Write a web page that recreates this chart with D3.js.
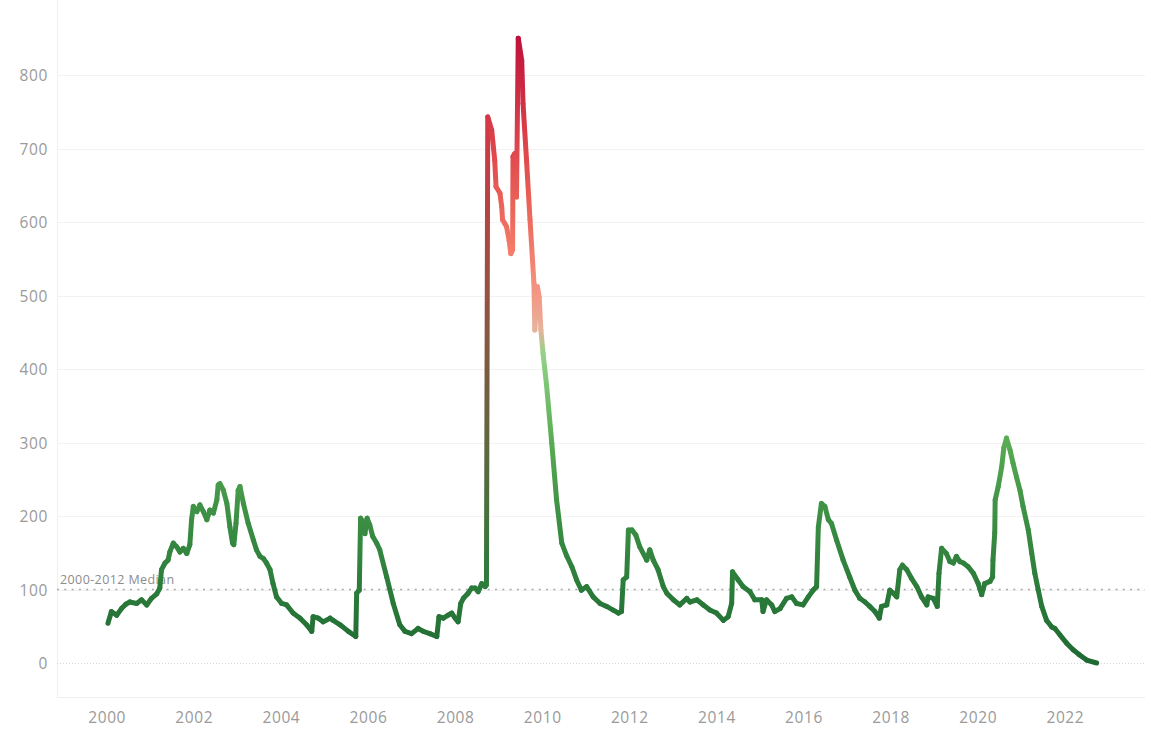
<!DOCTYPE html>
<html>
<head>
<meta charset="utf-8">
<script src="https://cdn.jsdelivr.net/npm/d3@7"></script>
<style>
  html, body { margin: 0; padding: 0; background: #ffffff; }
  svg { display: block; }
  text { font-family: "Open Sans", "Noto Sans", sans-serif; }
</style>
</head>
<body>
<svg id="chart" width="1151" height="730"></svg>
<script>
// ---- data ----
const years = [
  2000.03,2000.11,2000.23,2000.34,2000.44,2000.53,2000.69,2000.80,2000.92,2001.03,
  2001.15,2001.22,2001.26,2001.34,2001.41,2001.45,2001.53,2001.61,2001.68,2001.76,
  2001.84,2001.91,2001.95,2001.99,2002.07,2002.14,2002.22,2002.30,2002.37,2002.45,
  2002.53,2002.56,2002.60,2002.68,2002.76,2002.83,2002.89,2002.92,2002.97,2003.02,
  2003.06,2003.14,2003.25,2003.37,2003.44,2003.52,2003.60,2003.67,2003.75,2003.82,
  2003.90,2004.02,2004.13,2004.28,2004.44,2004.59,2004.71,2004.74,2004.86,2004.97,
  2005.13,2005.20,2005.36,2005.55,2005.72,2005.74,2005.80,2005.83,2005.89,2005.93,
  2005.98,2006.04,2006.11,2006.20,2006.27,2006.43,2006.58,2006.73,2006.85,2007.00,
  2007.15,2007.27,2007.42,2007.58,2007.63,2007.73,2007.84,2007.92,2008.00,2008.07,
  2008.13,2008.19,2008.30,2008.38,2008.46,2008.53,2008.61,2008.69,2008.72,2008.75,
  2008.84,2008.91,2008.94,2009.03,2009.07,2009.09,2009.14,2009.18,2009.24,2009.28,
  2009.32,2009.33,2009.37,2009.41,2009.45,2009.53,2009.56,2009.64,2009.72,2009.81,
  2009.83,2009.89,2009.93,2009.97,2010.02,2010.10,2010.22,2010.33,2010.45,2010.56,
  2010.68,2010.79,2010.90,2011.02,2011.17,2011.33,2011.48,2011.63,2011.75,2011.82,
  2011.86,2011.94,2011.98,2012.06,2012.15,2012.24,2012.40,2012.47,2012.55,2012.66,
  2012.78,2012.86,2013.01,2013.16,2013.32,2013.39,2013.55,2013.70,2013.85,2014.00,
  2014.16,2014.27,2014.35,2014.37,2014.50,2014.61,2014.77,2014.88,2015.04,2015.07,
  2015.15,2015.27,2015.34,2015.46,2015.61,2015.73,2015.84,2015.99,2016.11,2016.22,
  2016.30,2016.34,2016.41,2016.49,2016.57,2016.64,2016.76,2016.91,2017.06,2017.18,
  2017.29,2017.41,2017.52,2017.64,2017.74,2017.79,2017.91,2017.98,2018.06,2018.14,
  2018.21,2018.27,2018.37,2018.48,2018.60,2018.71,2018.83,2018.86,2018.98,2019.07,
  2019.11,2019.17,2019.28,2019.36,2019.44,2019.51,2019.59,2019.67,2019.78,2019.90,
  2020.01,2020.09,2020.16,2020.28,2020.34,2020.35,2020.39,2020.40,2020.47,2020.55,
  2020.60,2020.66,2020.74,2020.81,2020.89,2020.97,2021.04,2021.16,2021.24,2021.31,
  2021.39,2021.47,2021.58,2021.70,2021.77,2021.89,2022.04,2022.19,2022.34,2022.50,
  2022.73
];
const values = [
  54,70,65,74,80,83,81,86,79,88,
  94,102,127,136,140,151,163,158,151,156,
  149,161,195,213,206,215,206,195,208,204,
  222,242,244,235,217,185,163,161,190,235,
  240,217,190,167,154,145,142,136,127,108,
  90,81,79,68,61,52,43,63,61,56,
  61,58,52,43,36,95,99,197,192,176,
  197,188,172,163,154,117,81,52,43,40,
  47,43,40,36,63,61,65,68,61,56,
  81,88,95,102,102,97,108,104,106,743,
  725,684,648,639,621,603,598,594,575,557,
  562,689,693,634,850,820,761,684,603,517,
  453,512,498,453,421,378,299,222,163,146,
  131,113,99,104,90,81,77,72,68,70,
  113,117,181,181,174,158,140,154,140,127,
  104,95,86,79,88,83,86,79,72,68,
  58,63,81,124,113,104,97,86,86,70,
  86,79,70,74,88,90,81,79,90,99,
  104,185,217,213,195,190,167,140,117,99,
  88,83,77,70,61,77,79,99,95,90,
  127,133,127,115,104,90,79,90,88,77,
  122,156,149,138,136,145,138,136,131,122,
  108,93,108,111,117,140,177,222,240,267,
  293,306,290,272,253,235,213,181,149,122,
  99,77,58,49,47,38,27,18,11,4,
  0
];
const yTicks = [0, 100, 200, 300, 400, 500, 600, 700, 800];
const xTicks = [2000, 2002, 2004, 2006, 2008, 2010, 2012, 2014, 2016, 2018, 2020, 2022];
const medianValue = 100;
const medianLabel = "2000-2012 Median";
// diverging value -> colour ramp (green low, red high)
const colorStops = [0, 100, 200, 300, 420, 440, 460, 560, 680, 850];
const colorRange = ["#1f6a33", "#2b7b3a", "#3c8f44", "#58ab52", "#90d387", "#c9c6a4",
                    "#f6a897", "#f37d68", "#e34c4c", "#c0123c"];

(function () {
  // ---- layout ----
  const svg = d3.select("#chart");
  const plotLeft = 57, plotRight = 1145, plotTop = 75, zeroY = 663, bottomAxisY = 697;

  const x = d3.scaleLinear().domain([1998.86, 2023.84]).range([plotLeft, plotRight]);
  const y = d3.scaleLinear().domain([0, 800]).range([zeroY, plotTop]);
  const color = d3.scaleLinear().domain(colorStops).range(colorRange).interpolate(d3.interpolateRgb);

  // frame lines
  svg.append("line").attr("x1", plotLeft + 0.5).attr("x2", plotLeft + 0.5).attr("y1", 0).attr("y2", bottomAxisY)
    .attr("stroke", "#f0f0f0").attr("stroke-width", 1);
  svg.append("line").attr("x1", plotLeft).attr("x2", plotRight).attr("y1", bottomAxisY + 0.5).attr("y2", bottomAxisY + 0.5)
    .attr("stroke", "#efefef").attr("stroke-width", 1);

  // gridlines
  const grid = svg.append("g");
  grid.selectAll("line").data(yTicks).enter().append("line")
    .attr("x1", plotLeft).attr("x2", plotRight)
    .attr("y1", d => Math.round(y(d)) + 0.5).attr("y2", d => Math.round(y(d)) + 0.5)
    .attr("stroke", d => d === 0 ? "#d6d6d6" : "#f2f2f2")
    .attr("stroke-width", 1)
    .attr("stroke-dasharray", d => d === 0 ? "1,2" : null);

  // y axis labels
  const yAxis = d3.axisLeft(y).tickValues(yTicks).tickSize(0).tickPadding(0).tickFormat(d3.format("d"));
  const gy = svg.append("g").attr("transform", "translate(48,0)").call(yAxis);
  gy.select(".domain").remove();
  gy.selectAll("text").attr("fill", "#9a9a9a").style("font-size", "15.5px")
    .style("letter-spacing", "0.6px").attr("dy", "0.36em");

  // x axis labels
  const xAxis = d3.axisBottom(x).tickValues(xTicks).tickSize(0).tickPadding(0).tickFormat(d3.format("d"));
  const gx = svg.append("g").attr("transform", "translate(0,712)").call(xAxis);
  gx.select(".domain").remove();
  gx.selectAll("text").attr("fill", "#9a9a9a").style("font-size", "15.5px")
    .style("letter-spacing", "0.6px").attr("dy", "0.7em");

  // median reference line
  svg.append("line")
    .attr("x1", plotLeft).attr("x2", plotRight)
    .attr("y1", y(medianValue)).attr("y2", y(medianValue))
    .attr("stroke", "#a8a8a8").attr("stroke-width", 1.6)
    .attr("stroke-dasharray", "2,5.3");
  svg.append("text")
    .attr("x", plotLeft + 3).attr("y", y(medianValue) - 6)
    .attr("fill", "#8c8c8c").style("font-size", "12.5px").style("letter-spacing", "0.4px")
    .text(medianLabel);

  // line, coloured by value with per-segment gradients
  const pts = years.map((yr, i) => ({ x: x(yr), y: y(values[i]), v: values[i] }));
  const defs = svg.append("defs");
  const lineG = svg.append("g").attr("fill", "none").attr("stroke-width", 5).attr("stroke-linecap", "round");
  for (let i = 0; i < pts.length - 1; i++) {
    const a = pts[i], b = pts[i + 1];
    let stroke;
    if (Math.abs(a.v - b.v) > 12) {
      const id = "g" + i;
      const g = defs.append("linearGradient").attr("id", id)
        .attr("gradientUnits", "userSpaceOnUse")
        .attr("x1", a.x).attr("y1", a.y).attr("x2", b.x).attr("y2", b.y);
      g.append("stop").attr("offset", "0%").attr("stop-color", color(a.v));
      g.append("stop").attr("offset", "100%").attr("stop-color", color(b.v));
      stroke = "url(#" + id + ")";
    } else {
      stroke = color((a.v + b.v) / 2);
    }
    lineG.append("line")
      .attr("x1", a.x).attr("y1", a.y).attr("x2", b.x).attr("y2", b.y)
      .attr("stroke", stroke);
  }
})();
</script>
</body>
</html>
